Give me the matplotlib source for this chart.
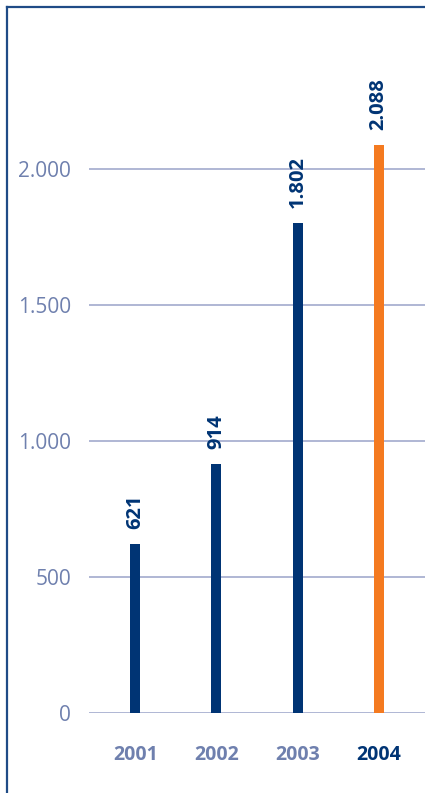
import matplotlib
matplotlib.use("Agg")
import matplotlib.pyplot as plt
from matplotlib.lines import Line2D

years = ["2001", "2002", "2003", "2004"]
values = [621, 914, 1802, 2088]
value_labels = ["621", "914", "1.802", "2.088"]
yticks = [0, 500, 1000, 1500, 2000]
ytick_labels = ["0", "500", "1.000", "1.500", "2.000"]

navy = "#003474"
orange = "#f47a20"
grid_col = "#a9b1d1"
tick_col = "#6f80ae"
frame_col = "#1f4b86"

W, H = 425, 793
fig = plt.figure(figsize=(W / 100, H / 100), dpi=100)
fig.patch.set_facecolor("white")

# frame: top and left rules
fig.add_artist(Line2D([7 / W, 1.0], [1 - 7 / H, 1 - 7 / H], color=frame_col, lw=1.6,
                      transform=fig.transFigure))
fig.add_artist(Line2D([7 / W, 7 / W], [0, 1 - 7 / H], color=frame_col, lw=1.6,
                      transform=fig.transFigure))

ax = fig.add_axes([89 / W, (H - 713) / H, 1 - 89 / W, 713 / H])
ax.set_xlim(-0.57, 3.57)
ax.set_ylim(0, 713 / 0.272)

for s in ax.spines.values():
    s.set_visible(False)

for t in yticks:
    ax.axhline(t, color=grid_col, lw=1.3, zorder=1)

colors = [navy, navy, navy, orange]
x = list(range(len(years)))
ax.bar(x, values, width=0.125, color=colors, zorder=2)

for xi, v, lab in zip(x, values, value_labels):
    ax.text(xi, v + 55, lab, rotation=90, ha="center", va="bottom",
            color=navy, fontsize=14.5, fontweight="bold", family="Open Sans")

ax.set_yticks(yticks)
ax.set_yticklabels(ytick_labels, color=tick_col, fontsize=15, family="Open Sans")
ax.tick_params(axis="y", length=0, pad=13)

ax.set_xticks(x)
ax.set_xticklabels(years, fontsize=14, fontweight="bold", family="Open Sans")
for i, lbl in enumerate(ax.get_xticklabels()):
    lbl.set_color(navy if i == 3 else tick_col)
ax.tick_params(axis="x", length=0, pad=23)

fig.savefig("out.png", dpi=100)
